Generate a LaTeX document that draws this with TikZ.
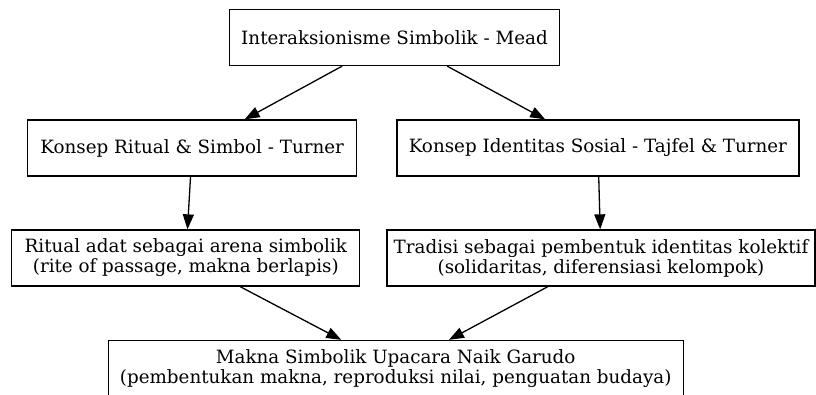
\documentclass[tikz,border=0pt]{standalone}
\usepackage{fontspec}
\setmainfont{DejaVu Serif}
\usetikzlibrary{arrows.meta}

\begin{document}
\begin{tikzpicture}[->, >={Triangle[length=15pt, width=11pt]}, line width=1.3pt, every node/.style={draw, rectangle, fill=white, align=center, inner sep=0pt, minimum height=56pt, font=\fontsize{18.3}{20}\selectfont}, x=1pt, y=-1pt]
    \useasboundingbox (0,0) rectangle (816,394);
    \node[minimum width=330pt] (n0) at (394.5,37.5) {Interaksionisme Simbolik - Mead};
    \node[minimum width=329pt] (n1) at (192.2,148) {Konsep Ritual \& Simbol - Turner};
    \node[minimum width=402pt] (n2) at (597.9,148) {Konsep Identitas Sosial - Tajfel \& Turner};
    \node[minimum width=348pt] (n3) at (185.8,258) {Ritual adat sebagai arena simbolik\\(rite of passage, makna berlapis)};
    \node[minimum width=428pt] (n4) at (601,258) {Tradisi sebagai pembentuk identitas kolektif\\(solidaritas, diferensiasi kelompok)};
    \node[minimum width=575pt] (n5) at (395.7,368.5) {Makna Simbolik Upacara Naik Garudo\\(pembentukan makna, reproduksi nilai, penguatan budaya)};

    \draw (n0) edge (n1);
    \draw (n0) edge (n2);
    \draw (n1) edge (n3);
    \draw (n2) edge (n4);
    \draw (n3) edge (n5);
    \draw (n4) edge (n5);
\end{tikzpicture}
\end{document}
